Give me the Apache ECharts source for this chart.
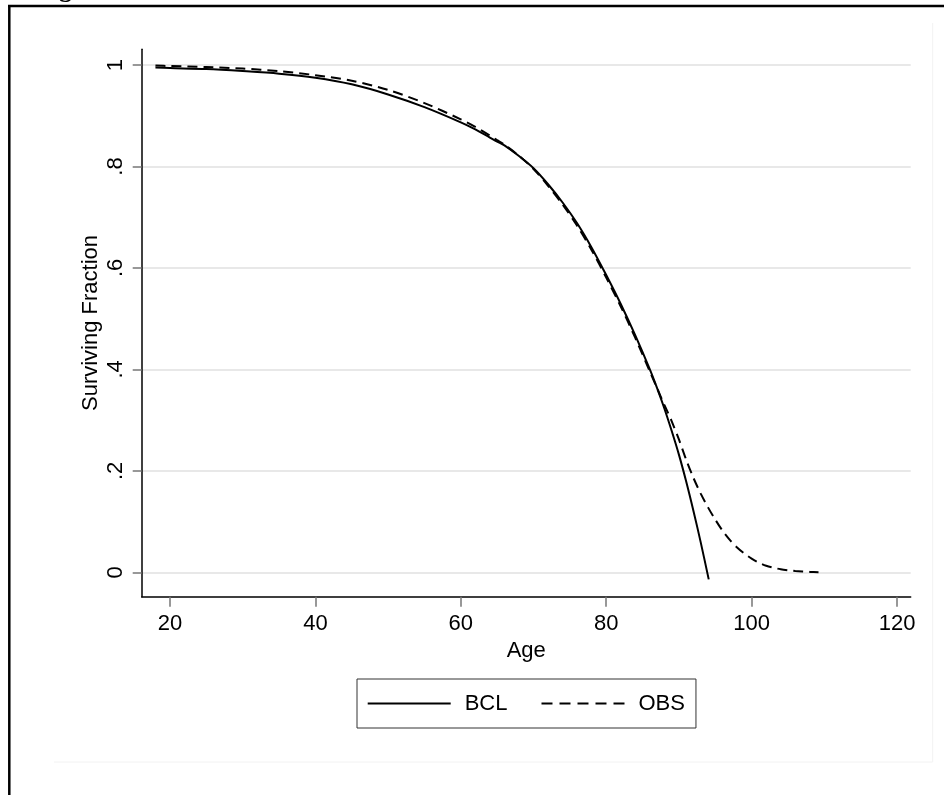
<!DOCTYPE html>
<html>
<head>
<meta charset="utf-8">
<script src="https://cdn.jsdelivr.net/npm/echarts@6/dist/echarts.min.js"></script>
<style>
  html, body { margin: 0; padding: 0; background: #fff; }
  #chart { width: 944px; height: 795px; }
</style>
</head>
<body>
<div id="chart"></div>
<script>
// ---- data ----
const bclAges = [18, 20, 25, 30, 35, 40, 45, 50, 55, 60, 62, 64, 65, 66, 68, 70, 72, 74, 76, 78, 80, 82, 84, 86, 87, 88, 89, 90, 91, 92, 93, 94.1];
const bclValues = [0.995, 0.994, 0.992, 0.988, 0.983, 0.975, 0.962, 0.942, 0.917, 0.887, 0.873, 0.857, 0.849, 0.8415, 0.8205, 0.7965, 0.765, 0.729, 0.688, 0.640, 0.586, 0.529, 0.467, 0.400, 0.363, 0.323, 0.279, 0.232, 0.179, 0.121, 0.059, -0.014];

const obsAges = [18, 20, 25, 30, 35, 40, 45, 50, 55, 60, 62, 64, 65, 66, 68, 70, 72, 74, 76, 78, 80, 82, 84, 86, 87, 88, 89, 90, 91, 92, 93, 94, 95, 96, 97, 98, 99, 100, 101, 102, 103, 104, 105, 106, 107, 108, 109.2];
const obsValues = [0.999, 0.998, 0.996, 0.993, 0.988, 0.980, 0.969, 0.951, 0.925, 0.893, 0.878, 0.861, 0.852, 0.843, 0.821, 0.795, 0.762, 0.725, 0.683, 0.635, 0.581, 0.524, 0.462, 0.396, 0.363, 0.330, 0.298, 0.262, 0.222, 0.186, 0.155, 0.128, 0.104, 0.082, 0.064, 0.049, 0.037, 0.027, 0.019, 0.013, 0.009, 0.006, 0.004, 0.0025, 0.0015, 0.0008, 0.0003];

const xTicks = [20, 40, 60, 80, 100, 120];
const yTicks = [0, 0.2, 0.4, 0.6, 0.8, 1];
const yTickLabels = ['0', '.2', '.4', '.6', '.8', '1'];
const seriesNames = ['BCL', 'OBS'];
const figureTitle = 'Figure';

const FONT = '"Liberation Sans", Arial, Helvetica, sans-serif';

function pairs(xs, ys) { return xs.map((x, i) => [x, ys[i]]); }

const chart = echarts.init(document.getElementById('chart'), null, { renderer: 'canvas' });

const option = {
  backgroundColor: '#ffffff',
  animation: false,
  textStyle: { fontFamily: FONT, color: '#000' },
  grid: { left: 141.7, right: 33.3, top: 49.3, bottom: 198.3, containLabel: false },
  xAxis: {
    type: 'value',
    min: 16.11,
    max: 121.88,
    name: 'Age',
    nameLocation: 'middle',
    nameGap: 43,
    nameMoveOverlap: false,
    nameTextStyle: { fontSize: 22, color: '#000', fontFamily: FONT, lineHeight: 22 },
    axisLine: { show: true, onZero: false, lineStyle: { color: '#000', width: 1.5 } },
    axisTick: { show: true, length: 10, customValues: xTicks, lineStyle: { color: '#777', width: 1.5 } },
    axisLabel: { show: true, margin: 16, customValues: xTicks, fontSize: 22, color: '#000', fontFamily: FONT, lineHeight: 22 },
    splitLine: { show: false }
  },
  yAxis: {
    type: 'value',
    min: -0.0481,
    max: 1.031,
    name: 'Surviving Fraction',
    nameLocation: 'middle',
    nameGap: 40,
    nameRotate: 90,
    nameMoveOverlap: false,
    nameTextStyle: { fontSize: 22, color: '#000', fontFamily: FONT, lineHeight: 22 },
    axisLine: { show: true, onZero: false, lineStyle: { color: '#000', width: 1.5 } },
    axisTick: { show: true, length: 9, customValues: yTicks, lineStyle: { color: '#777', width: 1.5 } },
    axisLabel: {
      show: true, margin: 15, rotate: 90, customValues: yTicks,
      fontSize: 22, color: '#000', fontFamily: FONT, lineHeight: 22,
      formatter: function (v) {
        const i = yTicks.findIndex(t => Math.abs(t - v) < 1e-6);
        return i >= 0 ? yTickLabels[i] : '';
      }
    },
    splitLine: { show: true, lineStyle: { color: '#e8e8e8', width: 2 } }
  },
  legend: {
    show: true,
    left: 357,
    top: 679,
    orient: 'horizontal',
    itemWidth: 83,
    itemHeight: 14,
    itemGap: 33,
    padding: [12.5, 11, 12.5, 9.7],
    borderColor: '#333',
    borderWidth: 1,
    backgroundColor: '#fff',
    textStyle: { fontSize: 22, color: '#000', fontFamily: FONT, lineHeight: 24, padding: [0, 0, 0, 9] },
    data: [
      { name: seriesNames[0], itemStyle: { opacity: 0 }, lineStyle: { type: 'solid', width: 2, color: '#000', opacity: 1 } },
      { name: seriesNames[1], itemStyle: { opacity: 0 }, lineStyle: { type: [11, 7], width: 2, color: '#000', opacity: 1 } }
    ]
  },
  series: [
    {
      name: seriesNames[0],
      type: 'line',
      data: pairs(bclAges, bclValues),
      showSymbol: false,
      symbol: 'none',
      smooth: 0.3,
      lineStyle: { color: '#000', width: 2, type: 'solid' },
      itemStyle: { color: '#000' },
      z: 3
    },
    {
      name: seriesNames[1],
      type: 'line',
      data: pairs(obsAges, obsValues),
      showSymbol: false,
      symbol: 'none',
      smooth: 0.3,
      lineStyle: { color: '#000', width: 2, type: [10, 6] },
      itemStyle: { color: '#000' },
      z: 3
    }
  ],
  graphic: [
    { type: 'line', silent: true, z: -10, shape: { x1: 54, y1: 762, x2: 932.7, y2: 762 }, style: { stroke: '#f2f2f2', lineWidth: 1 } },
    { type: 'line', silent: true, z: -10, shape: { x1: 932.7, y1: 23, x2: 932.7, y2: 762 }, style: { stroke: '#f2f2f2', lineWidth: 1 } },
    { type: 'line', silent: true, z: 100, shape: { x1: 8, y1: 6, x2: 944, y2: 6 }, style: { stroke: '#000', lineWidth: 2.5 } },
    { type: 'line', silent: true, z: 100, shape: { x1: 9.3, y1: 5, x2: 9.3, y2: 795 }, style: { stroke: '#000', lineWidth: 2.5 } },
    { type: 'text', silent: true, z: 100, x: 36, y: 2.8, style: { text: figureTitle, font: 'bold 26px "Liberation Serif", "Times New Roman", serif', fill: '#000', verticalAlign: 'bottom', align: 'left' } }
  ]
};

chart.setOption(option);
</script>
</body>
</html>
